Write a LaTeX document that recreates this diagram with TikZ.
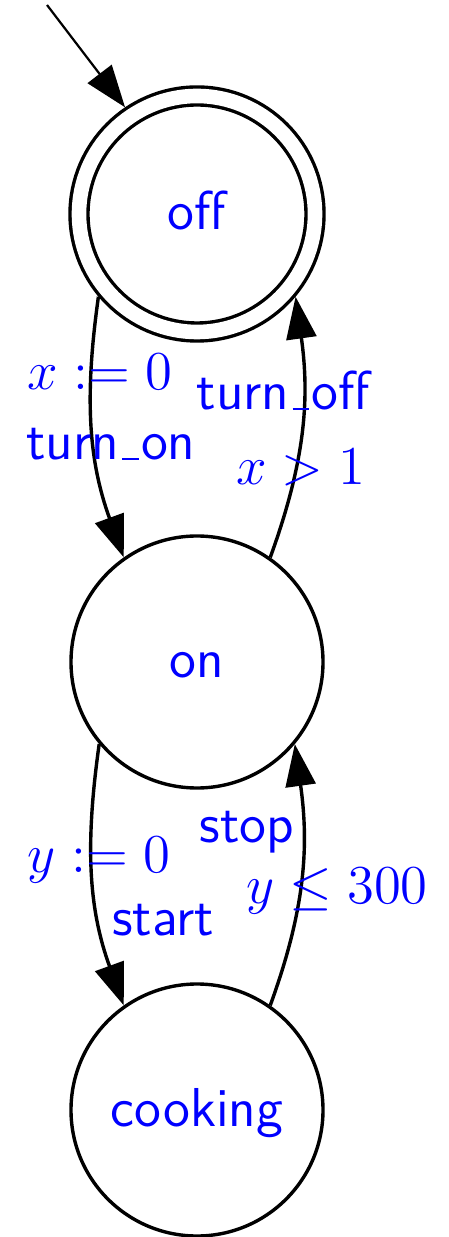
\documentclass[tikz,border=0pt]{standalone}
\usepackage{graphicx}
\usetikzlibrary{arrows.meta}
\newcommand{\mymath}[1]{\scalebox{1.1417}{\fontsize{12}{14}\selectfont$#1$}}
\newcommand{\myus}{\kern.06em\vbox{\hrule width .3em height 0.45pt}\kern.04em}
\begin{document}
\begin{tikzpicture}[x=0.25pt,y=0.25pt,
  txt/.style={text=blue, font=\fontsize{13.7}{16}\selectfont\sffamily},
  state/.style={txt, circle, draw, line width=0.85pt, minimum size=63pt, inner sep=0pt, text height=8pt, text depth=0pt},
  accept/.style={double, double distance=3.65pt, minimum size=59pt, outer sep=2.675pt},
  lbl/.style={txt, inner sep=0pt, anchor=base},
  edge/.style={line width=0.85pt, -{Triangle[length=10.5pt,width=7.5pt]}},
  initedge/.style={line width=0.55pt, -{Triangle[length=10.5pt,width=7.5pt]}}]
\useasboundingbox (0,0) rectangle (448,-1237);
\node[state, accept] (off) at (197,-214) {off};
\node[state] (on) at (197,-662) {on};
\node[state] (cooking) at (197,-1110) {cooking};
\coordinate (init) at (47,-5);
\draw[initedge] (init) -- (off.124);
\draw[edge] (off.220) to[out=262, in=110] (on.125);
\draw[edge] (on.55) to[out=70, in=278] (off.320);
\draw[edge] (on.220) to[out=262, in=110] (cooking.125);
\draw[edge] (cooking.55) to[out=70, in=278] (on.320);
\node[lbl] (l1) at (100,-390) {\mymath{x := 0}};
\node[lbl] (l2) at (111,-460) {turn\myus on};
\node[lbl] (l3) at (283,-410) {turn\myus off};
\node[lbl] (l4) at (301,-485) {\mymath{x > 1}};
\node[lbl] (l5) at (99,-872) {\mymath{y := 0}};
\node[lbl] (l6) at (163,-935) {start};
\node[lbl] (l7) at (247,-842) {stop};
\node[lbl] (l8) at (337,-903) {\mymath{y \leq 300}};
\end{tikzpicture}
\end{document}
